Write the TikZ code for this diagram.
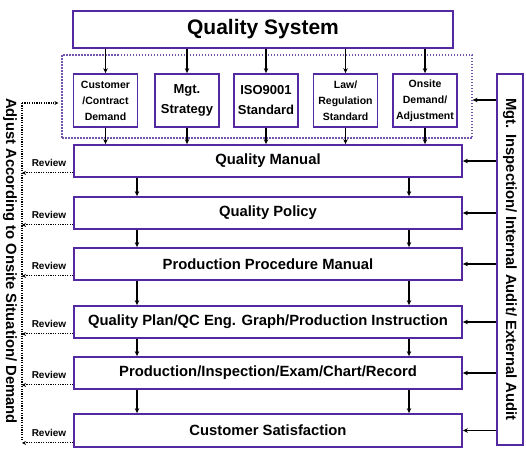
\documentclass[tikz,border=0pt]{standalone}
\usepackage{fontspec}
\setmainfont{Liberation Sans}
\usetikzlibrary{arrows.meta,calc}
\definecolor{boxpurple}{RGB}{84,40,160}
\definecolor{dotpurple}{RGB}{115,85,175}
\begin{document}
\begin{tikzpicture}[x=1pt,y=-1pt,
  mainbox/.style={draw=boxpurple,line width=1.8pt,fill=white,minimum width=388pt,minimum height=32pt,inner sep=0pt,font=\bfseries\fontsize{14.8}{16}\selectfont},
  smallbox/.style={draw=boxpurple,line width=1.8pt,fill=white,minimum width=64pt,minimum height=53pt,inner sep=0pt,align=center},
  smallA/.style={smallbox,font=\bfseries\fontsize{10.5}{16}\selectfont},
  smallB/.style={smallbox,font=\bfseries\fontsize{13}{20}\selectfont},
  arr/.style={line width=1.1pt,-{Stealth[length=5pt,width=4.5pt]}},
  darr/.style={line width=1.1pt,dash pattern=on 1.2pt off 1.2pt,-{Stealth[length=4pt,width=4pt]}},
  dline/.style={line width=1.1pt,dash pattern=on 1.2pt off 1.2pt},
  revlabel/.style={font=\bfseries\fontsize{10}{12}\selectfont,inner sep=0pt},
  sidetext/.style={font=\bfseries\fontsize{14.8}{17}\selectfont,inner sep=0pt,rotate=-90},
]
\useasboundingbox (0,0) rectangle (526,451);
\fill[white] (0,0) rectangle (526,451);

% group (dotted) box
\node[draw=dotpurple,line width=1.2pt,dash pattern=on 1.5pt off 1.5pt,minimum width=410pt,minimum height=83pt,inner sep=0pt] (grp) at (267,96.5) {};

% title
\node[draw=boxpurple,line width=1.8pt,minimum width=380pt,minimum height=37pt,inner sep=0pt,font=\bfseries\fontsize{21}{24}\selectfont] (qs) at (263,29.5) {Quality System};

% small boxes
\node[smallA] (s1) at (105.5,100.5) {Customer\\/Contract\\Demand};
\node[smallB] (s2) at (187,100.5) {Mgt.\\Strategy};
\node[smallB] (s3) at (266,100.5) {ISO9001\\Standard};
\node[smallA] (s4) at (345.5,100.5) {Law/\\Regulation\\Standard};
\node[smallA] (s5) at (425,100.5) {Onsite\\Demand/\\Adjustment};

% main boxes
\node[mainbox] (qm) at (268,161) {Quality Manual};
\node[mainbox] (qp) at (268,213) {Quality Policy};
\node[mainbox] (ppm) at (268,264) {Production Procedure Manual};
\node[mainbox] (qpl) at (268,322) {Quality Plan/QC Eng. Graph/Production Instruction};
\node[mainbox] (pie) at (268,373) {Production/Inspection/Exam/Chart/Record};
\node[mainbox,minimum height=33pt] (cs) at (268,430.5) {Customer Satisfaction};

% right box
\node[draw=boxpurple,line width=1.5pt,minimum width=26pt,minimum height=371pt,inner sep=0pt] (rb) at (510,259.5) {};
\node[sidetext] (rbt) at (rb.center) {Mgt. Inspection/ Internal Audit/ External Audit};

% left text
\node[sidetext] (lt) at (10,261) {Adjust According to Onsite Situation/ Demand};

% arrows title -> small boxes -> quality manual
\foreach \s in {s1,s2,s3,s4,s5}{
  \draw[arr] (qs.south -| \s.north) -- (\s.north);
  \draw[arr] (\s.south) -- (qm.north -| \s.south);
}

% arrows between main boxes
\coordinate (xl) at (137,0);
\coordinate (xr) at (409,0);
\foreach \a/\b in {qm/qp,qp/ppm,ppm/qpl,qpl/pie,pie/cs}{
  \draw[arr] (\a.south -| xl) -- (\b.north -| xl);
  \draw[arr] (\a.south -| xr) -- (\b.north -| xr);
}

% right arrows
\foreach \b in {qm,qp,ppm,qpl,pie,cs}{
  \draw[arr] (rb.west |- \b.east) -- (\b.east);
}
\coordinate (rg) at (0,100);
\draw[arr] (rb.west |- rg) -- (grp.east |- rg);

% left dotted feedback
\coordinate (ltop) at (22,103);
\coordinate (lbot) at (22,441);
\draw[dline] (ltop) -- (lbot);
\draw[darr,shorten >=3pt] (ltop) -- (grp.west |- ltop);
\foreach \b in {qm,qp,ppm,qpl,pie,cs}{
  \draw[darr] ($(\b.south west)+(0,-5)$) coordinate (r\b) -- (r\b -| ltop);
  \node[revlabel] at ($(r\b -| ltop)+(27,-10)$) {Review};
}
\end{tikzpicture}
\end{document}
